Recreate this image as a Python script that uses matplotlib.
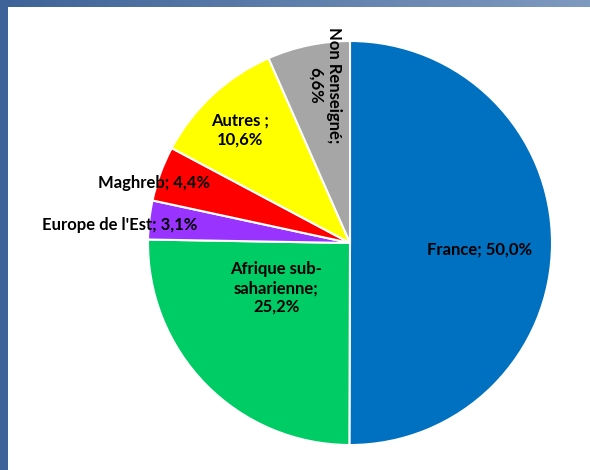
import numpy as np
import matplotlib.pyplot as plt
from matplotlib.patches import Rectangle

labels = ['France', 'Afrique sub-\nsaharienne', "Europe de l'Est", 'Maghreb', 'Autres ', 'Non Renseigné']
values = [50.0, 25.2, 3.1, 4.4, 10.6, 6.6]
colors = ['#0070C0', '#00CC66', '#9933FF', '#FF0000', '#FFFF00', '#A6A6A6']

plt.rcParams['font.family'] = ['Lato', 'DejaVu Sans']

fig = plt.figure(figsize=(5.9, 4.7), dpi=100)
fig.patch.set_facecolor('white')

# slide frame: gradient band on top, solid band on the left
band = fig.add_axes([0, 1 - 7 / 470, 1, 7 / 470])
band.imshow(np.linspace(0, 1, 256)[None, :], aspect='auto',
            cmap=plt.matplotlib.colors.LinearSegmentedColormap.from_list('b', ['#3E6398', '#7F9ABF']))
band.axis('off')
fig.patches.append(Rectangle((0, 0), 8 / 590, 1, transform=fig.transFigure,
                             facecolor='#3E6398', edgecolor='none', zorder=0))

ax = fig.add_axes([(350 - 202) / 590, (470 - 243 - 202) / 470, 404 / 590, 404 / 470])
wedges, _ = ax.pie(values, colors=colors, startangle=90, counterclock=False, radius=1,
                   wedgeprops=dict(edgecolor='white', linewidth=1.5))
ax.set_xlim(-1, 1)
ax.set_ylim(-1, 1)

def fmt(v):
    return f'{v:.1f}%'.replace('.', ',')

texts = [f'{l}; {fmt(v)}' if i in (0, 2, 3) else f'{l};\n{fmt(v)}'
         for i, (l, v) in enumerate(zip(labels, values))]

# label placement (in pie units) and alignment
pos = [(0.64, -0.03), (-0.366, -0.223), (-0.757, 0.089), (-0.693, 0.297), (-0.545, 0.56), (-0.124, 0.782)]
ha = ['center', 'center', 'right', 'right', 'center', 'center']
rot = [0, 0, 0, 0, 0, 270]
for t, p, h, r in zip(texts, pos, ha, rot):
    ax.text(p[0], p[1], t, ha=h, va='center', rotation=r, fontsize=12,
            fontweight='bold', linespacing=1.2, color='black')

plt.savefig('out.png', dpi=100)
